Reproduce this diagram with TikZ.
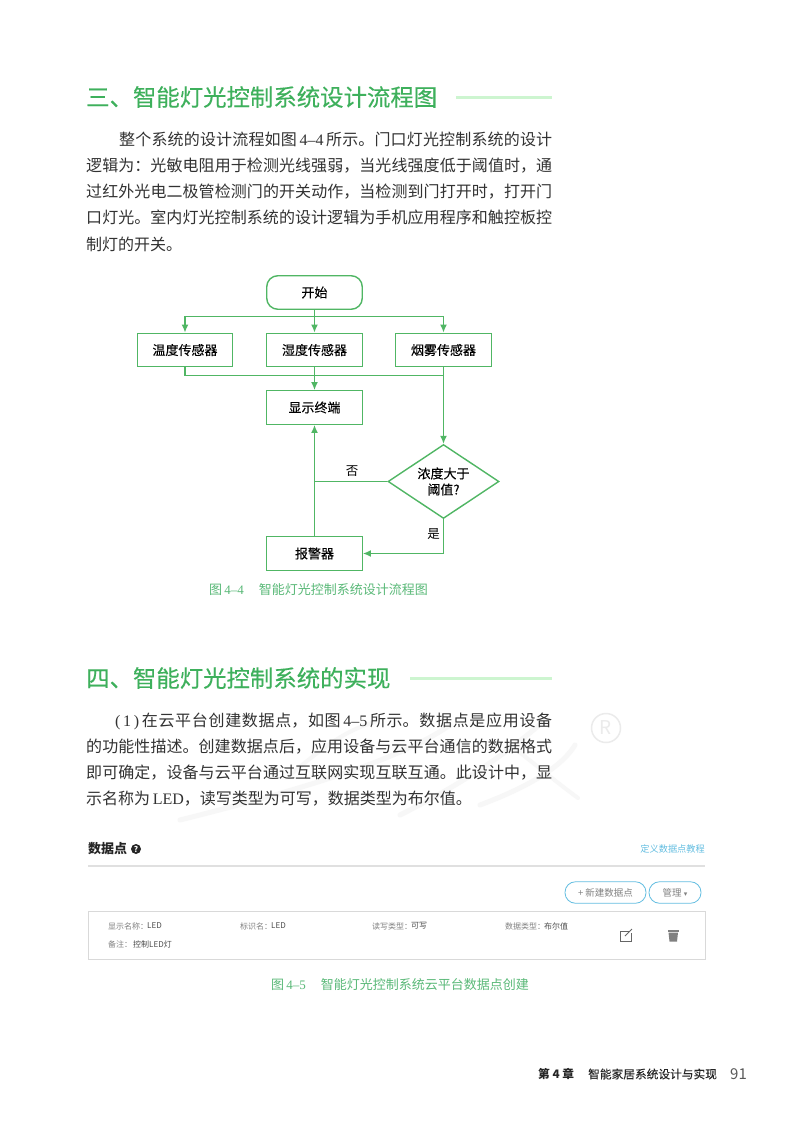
\documentclass[tikz,border=0pt]{standalone}
\usepackage{fontspec}
\setmainfont{Noto Sans CJK SC}
\newfontfamily\latinface{Liberation Serif}
\newfontfamily\symface{DejaVu Sans}
\newfontfamily\headface[FakeBold=0.25]{Noto Sans CJK SC}
\newfontfamily\flowface[FakeBold=0.1]{Noto Sans CJK SC}
\newcommand{\zhcomma}{\char"FF0C\relax}
\newcommand{\zhcolon}{\char"FF1A\relax}
\usepackage{tikz}
\usetikzlibrary{arrows.meta,positioning,shapes.geometric}
\pgfdeclarelayer{background layer}
\pgfsetlayers{background layer,main}
\definecolor{leafgreen}{RGB}{62,176,92}
\definecolor{linegreen}{RGB}{80,182,100}
\definecolor{palegreen}{RGB}{205,245,208}
\definecolor{captiongreen}{RGB}{90,185,120}
\definecolor{bodygrey}{RGB}{50,50,50}
\definecolor{skyblue}{RGB}{100,190,225}
\definecolor{webgrey}{RGB}{130,130,130}
\definecolor{ghost}{RGB}{247,247,247}
\XeTeXlinebreaklocale "zh"
\XeTeXlinebreakskip=0pt plus 2pt minus 0.5pt
\begin{document}
\begin{tikzpicture}[x=1pt,y=-1pt]
\tikzstyle{heading}=[anchor=west,inner sep=0,text=leafgreen,font=\headface\fontsize{23.4}{26}\selectfont]
\tikzstyle{headbar}=[draw=none,fill=palegreen]
\tikzstyle{bodytext}=[anchor=north west,inner sep=0,text width=466pt,align=justify,text=bodygrey,font=\fontsize{16}{26.2}\selectfont]
\tikzstyle{caption}=[anchor=west,inner sep=0,text=captiongreen,font=\fontsize{13}{15}\selectfont]
\tikzstyle{flowbox}=[draw=linegreen,line width=1.4pt,rectangle,minimum width=95.5pt,minimum height=33.5pt,inner sep=0,font=\flowface\fontsize{13}{15}\selectfont]
\tikzstyle{flowstart}=[flowbox,rounded corners=11pt]
\tikzstyle{flowjudge}=[draw=linegreen,line width=1.4pt,diamond,shape aspect=1.5,minimum width=111pt,minimum height=74pt,inner sep=0,align=center,font=\flowface\fontsize{13}{16}\selectfont]
\tikzstyle{flowlabel}=[inner sep=0,font=\fontsize{12.5}{15}\selectfont]
\tikzstyle{flowline}=[draw=linegreen,line width=1.4pt]
\tikzstyle{arrow}=[flowline,-{Latex[length=8pt,width=7pt]}]
\tikzstyle{webtext}=[anchor=west,inner sep=0,text=webgrey,font=\fontsize{8}{10}\selectfont]
\tikzstyle{webdark}=[anchor=west,inner sep=0,text=black!70,font=\fontsize{8}{10}\selectfont]
\tikzstyle{webbutton}=[draw=skyblue,thick,rounded corners=10.5pt,minimum height=21.5pt,inner sep=0,text=webgrey,font=\fontsize{9.5}{11}\selectfont]
\useasboundingbox (0,0) rectangle (800,1122);
\begin{pgfonlayer}{background layer}
\fill [white] (0,0) rectangle (800,1122);
\draw [ghost,line width=5pt,line cap=round] (180,820) .. controls (300,790) and (400,760) .. (450,725);
\draw [ghost,line width=4pt,line cap=round] (290,775) .. controls (320,750) and (345,730) .. (375,722);
\draw [ghost,line width=5pt,line cap=round] (400,815) .. controls (450,790) and (500,760) .. (545,720);
\draw [ghost,line width=5pt,line cap=round] (480,805) .. controls (520,790) and (560,770) .. (575,745);
\draw [ghost,line width=4pt,line cap=round] (510,745) .. controls (530,760) and (560,785) .. (578,798);
\end{pgfonlayer}
\node [circle,draw=ghost!95!black,line width=1.5pt,minimum size=29pt,inner sep=0,text=ghost!95!black,font=\fontsize{19}{20}\selectfont] at (606,728) (regmark) {R};
\node [heading] at (86,97) (head3) {三、智能灯光控制系统设计流程图};
\fill [headbar] (456,95.5) rectangle (552,99);
\node [bodytext] at (86,131.5) (para3) {\hspace*{33pt}整个系统的设计流程如图{\latinface\,4–4\,}所示。门口灯光控制系统的设计\linebreak 逻辑为\zhcolon 光敏电阻用于检测光线强弱\zhcomma 当光线强度低于阈值时\zhcomma 通\linebreak 过红外光电二极管检测门的开关动作\zhcomma 当检测到门打开时\zhcomma 打开门\linebreak 口灯光。室内灯光控制系统的设计逻辑为手机应用程序和触控板控\linebreak 制灯的开关。};
\node [flowstart] at (314.5,292.5) (start) {开始};
\node [flowbox] at (185,350) (temp) {温度传感器};
\node [flowbox,right of=temp,node distance=129.5pt] (humid) {湿度传感器};
\node [flowbox,right of=humid,node distance=129pt] (smoke) {烟雾传感器};
\node [flowbox,below of=humid,node distance=57.5pt] (display) {显示终端};
\node [flowjudge] at (443.5,481.5) (judge) {浓度大于\\阈值?};
\node [flowbox] at (314.5,553.5) (alarm) {报警器};
\coordinate (split) at (314.5,316.5);
\coordinate (merge) at (314.5,375.5);
\coordinate (nojoin) at (314.5,481.5);
\draw [arrow] (start) -- (humid);
\draw [arrow] (split) -| (temp);
\draw [arrow] (split) -| (smoke);
\draw [flowline] (temp.south) |- (merge);
\draw [flowline] (smoke.south) |- (merge);
\draw [arrow] (humid) -- (display);
\draw [arrow] (smoke) -- (judge);
\draw [flowline] (judge.west) -- (nojoin);
\draw [arrow] (alarm) -- (display);
\draw [arrow] (judge.south) |- (alarm.east);
\node [flowlabel] at (352,471) (nolabel) {否};
\node [flowlabel] at (433.5,534) (yeslabel) {是};
\node [caption] at (209,590) (cap4) {图{\latinface\,4–4}\hspace{15pt}智能灯光控制系统设计流程图};
\node [heading] at (86,678) (head4) {四、智能灯光控制系统的实现};
\fill [headbar] (410,676.5) rectangle (552,680);
\node [bodytext] at (86,712.5) (para4) {\hspace*{29pt}{\latinface(\,1\,)\,}在云平台创建数据点\zhcomma 如图{\latinface\,4–5\,}所示。数据点是应用设备\linebreak 的功能性描述。创建数据点后\zhcomma 应用设备与云平台通信的数据格式\linebreak 即可确定\zhcomma 设备与云平台通过互联网实现互联互通。此设计中\zhcomma 显\linebreak 示名称为{\latinface\,LED}\zhcomma 读写类型为可写\zhcomma 数据类型为布尔值。};
\node [anchor=west,inner sep=0,text=black!85,font=\bfseries\fontsize{13}{15}\selectfont] at (88,849) (webtitle) {数据点};
\node [circle,fill=black!85,text=white,minimum size=10pt,inner sep=0,font=\bfseries\fontsize{8}{8}\selectfont] at (136,849) (webhelp) {?};
\node [anchor=east,inner sep=0,text=skyblue,font=\fontsize{9.2}{11}\selectfont] at (705,849) (weblink) {定义数据点教程};
\draw [black!12,line width=2pt] (88,865.5) -- (705,865.5);
\node [webbutton,minimum width=81pt] at (605.5,892.5) (newbtn) {+ 新建数据点};
\node [webbutton,minimum width=52pt] at (675,892.5) (manbtn) {管理 {\symface\scriptsize ▾}};
\draw [black!15,fill=white] (88,911) rectangle (705,959);
\node [webtext] at (108,926) (name1) {显示名称\zhcolon};
\node [webdark] at (147,926) (name2) {LED};
\node [webtext] at (240,926) (mark1) {标识名\zhcolon};
\node [webdark] at (271,926) (mark2) {LED};
\node [webtext] at (372,926) (rw1) {读写类型\zhcolon};
\node [webdark] at (411,926) (rw2) {可写};
\node [webtext] at (505,926) (type1) {数据类型\zhcolon};
\node [webdark] at (544,926) (type2) {布尔值};
\node [webtext] at (108,944) (note1) {备注\zhcolon};
\node [webdark] at (133,944) (note2) {控制LED灯};
\draw [black!60,thick] (630,931) -- (620.5,931) -- (620.5,941) -- (631,941) -- (631,933);
\draw [black!60,thick] (625,936) -- (632,929);
\fill [black!50] (667.5,930) rectangle (679,931.5);
\fill [black!50] (668.5,932.5) -- (678,932.5) -- (677,941.5) -- (669.5,941.5) -- cycle;
\node [caption] at (271,985) (cap5) {图{\latinface\,4–5}\hspace{15pt}智能灯光控制系统云平台数据点创建};
\node [anchor=west,inner sep=0,text=black!85,font=\bfseries\fontsize{11.7}{14}\selectfont] at (538,1074) (footch) {第 4 章};
\node [anchor=west,inner sep=0,text=black!85,font=\flowface\fontsize{11.7}{14}\selectfont] at (588,1074) (foottitle) {智能家居系统设计与实现};
\node [anchor=west,inner sep=0,text=black!65,font=\fontsize{15}{16}\selectfont] at (730,1074) (footnum) {91};
\end{tikzpicture}
\end{document}
